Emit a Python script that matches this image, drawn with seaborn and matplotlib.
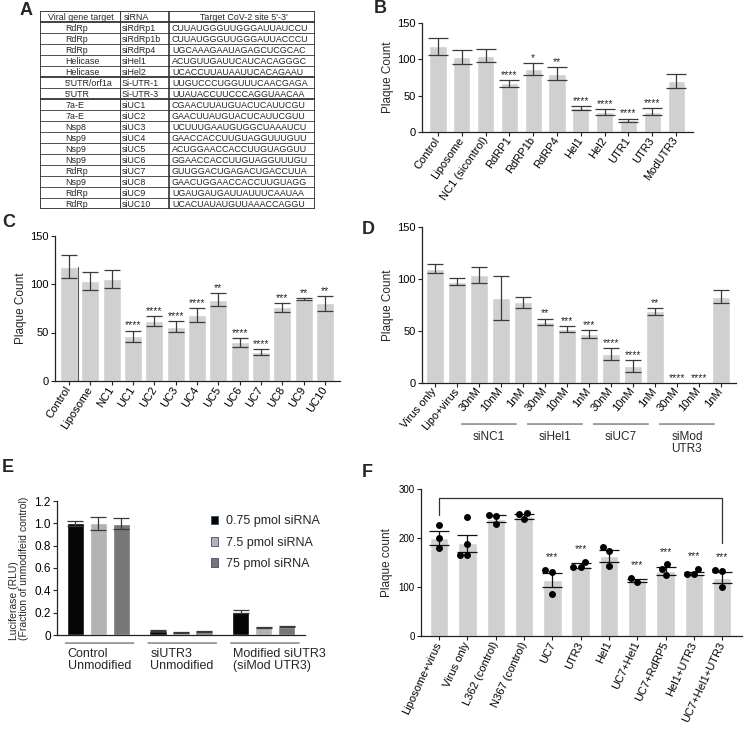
import numpy as np
import pandas as pd
import seaborn as sns
import matplotlib.pyplot as plt
from matplotlib.patches import Patch

# ---- A: siRNA table
a_header = ["Viral gene target", "siRNA", "Target CoV-2 site 5'-3'"]
a_gene = ["RdRp", "RdRp", "RdRp", "Helicase", "Helicase", "5'UTR/orf1a", "5'UTR",
          "7a-E", "7a-E", "Nsp8", "Nsp9", "Nsp9", "Nsp9", "RdRp", "Nsp9", "RdRp", "RdRp"]
a_sirna = ["siRdRp1", "siRdRp1b", "siRdRp4", "siHel1", "siHel2", "Si-UTR-1", "Si-UTR-3",
           "siUC1", "siUC2", "siUC3", "siUC4", "siUC5", "siUC6", "siUC7", "siUC8", "siUC9", "siUC10"]
a_site = ["CUUAUGGGUUGGGAUUAUCCU", "CUUAUGGGUUGGGAUUACCCU", "UGCAAAGAAUAGAGCUCGCAC",
          "ACUGUUGAUUCAUCACAGGGC", "UCACCUUAUAAUUCACAGAAU", "UUGUCCCUGGUUUCAACGAGA",
          "UUAUACCUUCCCAGGUAACAA", "CGAACUUAUGUACUCAUUCGU", "GAACUUAUGUACUCAUUCGUU",
          "UCUUUGAAUGUGGCUAAAUCU", "GAACCACCUUGUAGGUUUGUU", "ACUGGAACCACCUUGUAGGUU",
          "GGAACCACCUUGUAGGUUUGU", "GUUGGACUGAGACUGACCUUA", "GAACUGGAACCACCUUGUAGG",
          "UGAUGAUGAUUAUUUCAAUAA", "UCACUAUAUGUUAAACCAGGU"]

# ---- B
b_labels = ["Control", "Liposome", "NC1 (sicontrol)", "RdRP1", "RdRP1b", "RdRP4",
            "Hel1", "Hel2", "UTR1", "UTR3", "ModUTR3"]
b_mean = [118, 103, 105, 67, 87, 80, 33, 27, 16, 28, 70]
b_err = [12, 10, 9, 5, 8, 9, 3, 4, 2.5, 5, 9.5]
b_stars = ["", "", "", "****", "*", "**", "****", "****", "****", "****", ""]

# ---- C
c_labels = ["Control", "Liposome", "NC1", "UC1", "UC2", "UC3", "UC4", "UC5",
            "UC6", "UC7", "UC8", "UC9", "UC10"]
c_mean = [118, 103, 105, 46, 62, 56, 68, 84, 40, 30, 76, 85, 80]
c_err = [12, 9.5, 9, 6, 5, 5.5, 7, 7, 4.5, 3, 4.5, 1, 8]
c_stars = ["", "", "", "****", "****", "****", "****", "**", "****", "****", "***", "**", "**"]

# ---- D
d_labels = ["Virus only", "Lipo+virus", "30nM", "10nM", "1nM", "30nM", "10nM", "1nM",
            "30nM", "10nM", "1nM", "30nM", "10nM", "1nM"]
d_mean = [110, 97.5, 104, 82, 77.5, 59, 52, 47, 28, 16.5, 69, 0, 0, 83]
d_err = [4, 3.5, 8, 21, 5, 3, 3, 3.5, 6, 6, 3.5, 0, 0, 6.5]
d_stars = ["", "", "", "", "", "**", "***", "***", "****", "****", "**", "****", "****", ""]
d_groups = ["siNC1", "siHel1", "siUC7", "siMod\nUTR3"]
d_group_start = [2, 5, 8, 11]

# ---- E
e_groups = ["Control\nUnmodified", "siUTR3\nUnmodified", "Modified siUTR3\n(siMod UTR3)"]
e_doses = ["0.75 pmol siRNA", "7.5 pmol siRNA", "75 pmol siRNA"]
e_low = [1.0, 0.04, 0.21]
e_mid = [1.0, 0.025, 0.07]
e_high = [0.995, 0.03, 0.075]
e_low_err = [0.025, 0.005, 0.015]
e_mid_err = [0.06, 0.004, 0.005]
e_high_err = [0.05, 0.005, 0.006]

# ---- F
f_labels = ["Liposome+virus", "Virus only", "L362 (control)", "N367 (control)", "UC7", "UTR3",
            "Hel1", "UC7+Hel1", "UC7+RdRP5", "Hel1+UTR3", "UC7+Hel1+UTR3"]
f_mean = [200, 189, 239, 244, 114, 143, 163, 114, 133, 127, 119]
f_err = [14, 18, 7, 5, 15, 5, 12, 3, 8, 3, 11]
f_points = [[227, 200, 179], [242, 188, 165, 165], [247, 245, 229], [251, 248, 238],
            [134, 131, 86], [152, 141, 141], [182, 174, 142], [110, 118],
            [146, 136, 124], [137, 126, 126], [135, 133, 100]]
f_stars = ["", "", "", "", "***", "***", "", "***", "***", "***", "***"]
f_bracket = [247, 282, 190]   # left end, top, right end

sns.set_style("ticks")
plt.rcParams['font.family'] = ['Liberation Sans', 'DejaVu Sans']
plt.rcParams.update({
    "axes.linewidth": 0.9, "axes.edgecolor": "#222222",
    "xtick.major.size": 3, "ytick.major.size": 3,
    "xtick.major.width": 0.8, "ytick.major.width": 0.8,
    "xtick.color": "#222222", "ytick.color": "#222222",
    "xtick.labelcolor": "black", "ytick.labelcolor": "black",
    "xtick.major.pad": 1.5, "ytick.major.pad": 1.5,
    "font.size": 8,
})

BAR = "#d0d0d0"
ERR = "#3a3a3a"
W, H = 744, 737
fig = plt.figure(figsize=(W / 100, H / 100), dpi=100)


def rect(l, t, r, b):
    return [l / W, 1 - b / H, (r - l) / W, (b - t) / H]


def letter(x, y, s):
    fig.text(x / W, 1 - y / H, s, fontsize=13, fontweight="bold", va="top", ha="left")


def stars(ax, xs, tops, marks, fs=7.5):
    for x, t, s in zip(xs, tops, marks):
        if s:
            ax.annotate(s, (x, t), xytext=(0, 0), textcoords="offset points",
                        ha="center", va="bottom", fontsize=fs)


def plaque(ax, labels, mean, err, marks, width, xlim, rot, cap, ylabel="Plaque Count"):
    n = len(labels)
    df = pd.DataFrame({"pos": np.arange(n), "value": mean})
    sns.barplot(data=df, x="pos", y="value", color=BAR, saturation=1, width=width,
                errorbar=None, ax=ax)
    m = np.array(mean, dtype=float)
    e = np.array(err, dtype=float)
    keep = m > 0
    ax.errorbar(np.arange(n)[keep], m[keep], yerr=e[keep], fmt="none", ecolor=ERR,
                elinewidth=0.9, capsize=cap, capthick=0.9)
    stars(ax, np.arange(n), m + e, marks)
    ax.set_xlim(*xlim)
    ax.set_ylim(0, 150)
    ax.set_yticks([0, 50, 100, 150])
    ax.set_xticks(np.arange(n))
    ax.set_xticklabels(labels, rotation=rot, ha="right", va="center", rotation_mode="anchor",
                       fontsize=8)
    ax.set_xlabel("")
    ax.set_ylabel(ylabel, fontsize=8.5, labelpad=2)
    sns.despine(ax=ax)


# ---- A
nrow = len(a_gene) + 1
ax_a = fig.add_axes(rect(40, 11, 315, 209))
ax_a.set_xlim(0, 275)
ax_a.set_ylim(nrow, 0)
ax_a.axis("off")
for i in range(nrow + 1):
    lw = 1.3 if i in (0, 1, 6, 8, nrow) else 0.6
    ax_a.plot([0, 275], [i, i], color="#333333", lw=lw, solid_capstyle="butt")
for x, lw in zip([0, 80, 129, 275], [1.3, 0.7, 1.2, 1.3]):
    ax_a.plot([x, x], [0, nrow], color="#333333", lw=lw, solid_capstyle="butt")
TF = 6.4
ax_a.text(8, 0.55, a_header[0], fontsize=TF, va="center")
ax_a.text(84, 0.55, a_header[1], fontsize=TF, va="center")
ax_a.text(204, 0.55, a_header[2], fontsize=TF, va="center", ha="center")
for i, (g, s, t) in enumerate(zip(a_gene, a_sirna, a_site)):
    y = i + 1.55
    ax_a.text(25, y, g, fontsize=TF, va="center")
    ax_a.text(82, y, s, fontsize=TF, va="center")
    ax_a.text(132, y, t, fontsize=TF, va="center")

# ---- B
ax_b = fig.add_axes(rect(422, 23, 693, 132))
plaque(ax_b, b_labels, b_mean, b_err, b_stars, 0.72, (-0.67, 10.71), 55, 7)

# ---- C
ax_c = fig.add_axes(rect(55, 235.5, 340, 381))
plaque(ax_c, c_labels, c_mean, c_err, c_stars, 0.84, (-0.66, 12.7), 57, 5.5)
ax_c.plot([0.40, 0.40], [0, c_mean[0]], color="#555555", lw=0.8)

# ---- D
ax_d = fig.add_axes(rect(422, 227, 736, 383))
plaque(ax_d, d_labels, d_mean, d_err, d_stars, 0.83, (-0.59, 13.68), 50, 5.5)
for name, s in zip(d_groups, d_group_start):
    ax_d.annotate("", xy=(s - 0.8, -0.263), xytext=(s + 2 - 0.3, -0.263),
                  xycoords=("data", "axes fraction"),
                  arrowprops=dict(arrowstyle="-", color="#555555", lw=0.8, shrinkA=0, shrinkB=0))
    ax_d.annotate(name, xy=(s + 1 - 0.55, -0.305), xycoords=("data", "axes fraction"),
                  ha="center", va="top", fontsize=8.5, annotation_clip=False, linespacing=1.05)

# ---- E
ax_e = fig.add_axes(rect(57, 501, 305, 635))
e_df = pd.DataFrame({
    "group": e_groups * 3,
    "dose": np.repeat(e_doses, 3),
    "value": e_low + e_mid + e_high,
    "err": e_low_err + e_mid_err + e_high_err,
})
e_colors = ["#050505", "#b3b3b3", "#777777"]
sns.barplot(data=e_df, x="group", y="value", hue="dose", hue_order=e_doses, palette=e_colors,
            saturation=1, width=0.84, gap=0.25, errorbar=None, legend=False, ax=ax_e)
for cont, dose in zip(ax_e.containers, e_doses):
    sub = e_df[e_df["dose"] == dose]
    xs = [p.get_x() + p.get_width() / 2 for p in cont.patches]
    ax_e.errorbar(xs, sub["value"], yerr=sub["err"], fmt="none", ecolor=ERR,
                  elinewidth=0.9, capsize=6, capthick=0.9)
ax_e.set_xlim(-0.5, 2.5)
ax_e.set_ylim(0, 1.2)
ax_e.set_yticks(np.arange(0, 1.21, 0.2))
ax_e.set_yticklabels(["0", "0.2", "0.4", "0.6", "0.8", "1.0", "1.2"], fontsize=8.5)
ax_e.set_xticks([])
ax_e.set_xlabel("")
ax_e.set_ylabel("")
sns.despine(ax=ax_e)
for i, g in enumerate(e_groups):
    ax_e.annotate("", xy=(i - 0.4, -0.06), xytext=(i + 0.43, -0.06),
                  xycoords=("data", "axes fraction"),
                  arrowprops=dict(arrowstyle="-", color="#555555", lw=0.8, shrinkA=0, shrinkB=0))
    ax_e.annotate(g, xy=(i - 0.37, -0.095), xycoords=("data", "axes fraction"),
                  ha="left", va="top", fontsize=9, linespacing=1.05, annotation_clip=False)
handles = [Patch(facecolor=c, edgecolor="#3b4a7a", linewidth=0.6) for c in e_colors]
ax_e.legend(handles, e_doses, loc="upper left", bbox_to_anchor=(0.6, 0.93), frameon=False,
            fontsize=9, handlelength=0.6, handleheight=0.7, handletextpad=0.6, labelspacing=0.75,
            borderaxespad=0)
fig.text(19 / W, 1 - 568 / H, "Luciferase (RLU)\n(Fraction of unmodifeid control)",
         rotation=90, ha="center", va="center", multialignment="left", fontsize=7.5,
         linespacing=1.05)

# ---- F
ax_f = fig.add_axes(rect(421, 489, 742, 636))
f_df = pd.DataFrame({"label": f_labels, "value": f_mean})
sns.barplot(data=f_df, x="label", y="value", order=f_labels, color=BAR, saturation=1,
            width=0.65, errorbar=None, ax=ax_f)
ax_f.errorbar(np.arange(len(f_labels)), f_mean, yerr=f_err, fmt="none", ecolor="#111111",
              elinewidth=0.9, capsize=7, capthick=0.9, zorder=3)
pts = pd.DataFrame({"label": np.repeat(f_labels, [len(p) for p in f_points]),
                    "value": np.concatenate(f_points)})
sns.swarmplot(data=pts, x="label", y="value", order=f_labels, color="black", size=5, ax=ax_f,
              zorder=4)
stars(ax_f, np.arange(len(f_labels)), [max(p) + 16 for p in f_points], f_stars)
ax_f.plot([0, 0, 10, 10], f_bracket[:1] + [f_bracket[1]] * 2 + f_bracket[2:], color="#333333",
          lw=0.9)
ax_f.set_xlim(-0.64, 10.7)
ax_f.set_ylim(0, 300)
ax_f.set_yticks([0, 100, 200, 300])
ax_f.tick_params(axis="y", labelsize=7)
ax_f.set_xticks(np.arange(len(f_labels)))
ax_f.set_xticklabels(f_labels, rotation=65, ha="right", va="center", rotation_mode="anchor",
                     fontsize=8)
ax_f.set_xlabel("")
ax_f.set_ylabel("Plaque count", fontsize=8.5, labelpad=4)
sns.despine(ax=ax_f)

letter(20, 2, "A")
letter(374, 0, "B")
letter(2, 214, "C")
letter(362, 221, "D")
letter(2, 459, "E")
letter(362, 464, "F")

fig.savefig("out.png", dpi=100)
